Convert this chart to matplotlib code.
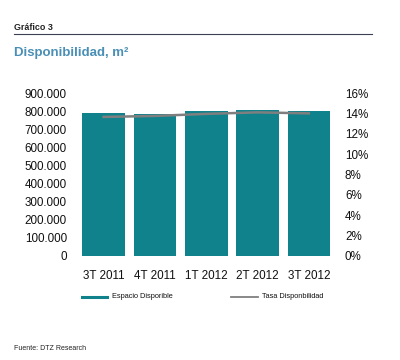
import matplotlib
matplotlib.use("Agg")
import matplotlib.pyplot as plt
from matplotlib.ticker import FuncFormatter
from matplotlib.lines import Line2D

categories = ["3T 2011", "4T 2011", "1T 2012", "2T 2012", "3T 2012"]
espacio = [788000, 782000, 799000, 805000, 799000]
tasa = [13.65, 13.75, 13.95, 14.1, 14.0]
left_ticks = [0, 100000, 200000, 300000, 400000, 500000, 600000, 700000, 800000, 900000]
right_ticks = [0, 2, 4, 6, 8, 10, 12, 14, 16]

teal = "#10828c"
gray = "#7f7f7f"
plt.rcParams['font.family'] = ['Liberation Sans', 'DejaVu Sans']

W, H = 400, 360
fig = plt.figure(figsize=(W/100, H/100), dpi=100)
ax = fig.add_axes([78/W, 1-256/H, (334.5-78)/W, (256-93)/H])
x = range(len(categories))
ax.bar(x, espacio, width=0.83, color=teal, zorder=2)
ax.set_xlim(-0.5, len(categories)-0.5)
ax.set_ylim(0, 900000)
ax.set_yticks(left_ticks)
ax.yaxis.set_major_formatter(FuncFormatter(lambda v, p: f"{int(v):,}".replace(",", ".")))
ax.set_xticks(list(x))
ax.set_xticklabels(categories)
for s in ax.spines.values():
    s.set_visible(False)
ax.tick_params(length=0, labelsize=8.4, colors="#111111")
ax.tick_params(axis='y', pad=8)
ax.tick_params(axis='x', pad=10)

ax2 = ax.twinx()
ax2.plot(list(x), tasa, color=gray, lw=1.8, zorder=3)
ax2.set_ylim(0, 16)
ax2.set_yticks(right_ticks)
ax2.yaxis.set_major_formatter(FuncFormatter(lambda v, p: f"{int(v)}%"))
for s in ax2.spines.values():
    s.set_visible(False)
ax2.tick_params(length=0, labelsize=8.4, colors="#111111", pad=7.5)

# header
fig.text(14/W, 1-27/H, "Gráfico 3", fontsize=6.4, fontweight='bold', va='center', color="#222222")
fig.add_artist(Line2D([14/W, 372/W], [1-34/H, 1-34/H], color="#3a3f55", lw=0.8))
fig.text(14/W, 1-53/H, "Disponibilidad, m²", fontsize=9.5, fontweight='bold', va='center', color="#4a8fb5")

# legend
ly = 1-297/H
fig.add_artist(Line2D([82/W, 107/W], [ly, ly], color=teal, lw=2.2))
fig.text(112/W, ly, "Espacio Disporible", fontsize=5.3, va='center', color="#111111")
fig.add_artist(Line2D([231/W, 258/W], [ly, ly], color=gray, lw=1.3))
fig.text(262/W, ly, "Tasa Disponbilidad", fontsize=5.3, va='center', color="#111111")

fig.text(14/W, 1-348/H, "Fuente: DTZ Research", fontsize=5, va='center', color="#222222")

fig.savefig("out.png", dpi=100)
